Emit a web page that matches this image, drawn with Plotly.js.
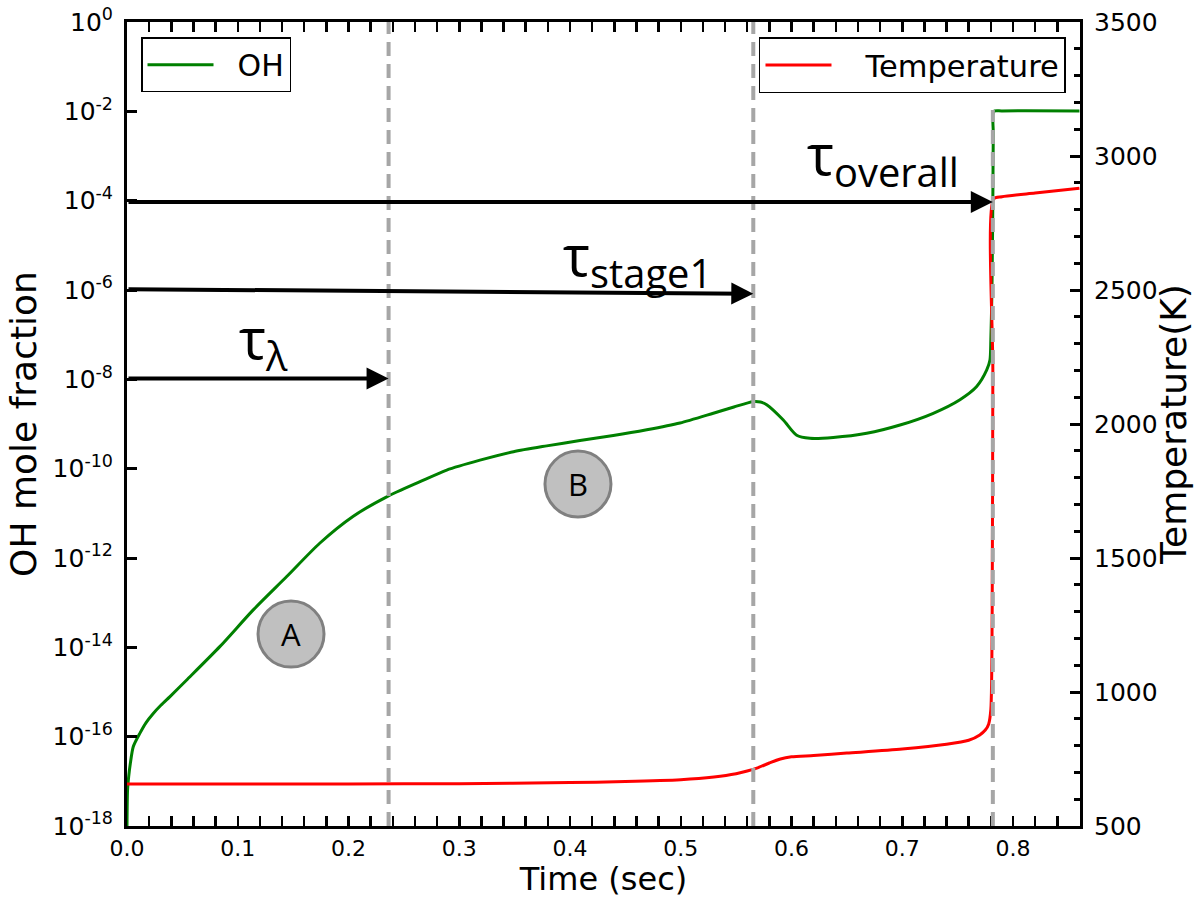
<!DOCTYPE html>
<html>
<head>
<meta charset="utf-8">
<script src="https://cdn.plot.ly/plotly-3.0.1.min.js"></script>
<style>html,body{margin:0;padding:0;background:#fff;}#chart{width:1194px;height:898px;}</style>
</head>
<body>
<div id="chart"></div>
<script>
// OH mole fraction vs time
const time_oh = [0, 0.0005, 0.0015, 0.003, 0.0057, 0.0117, 0.0171, 0.0237, 0.0308, 0.0388, 0.0539, 0.084, 0.114, 0.144, 0.174, 0.204, 0.2345, 0.2646, 0.2887, 0.3187, 0.349, 0.379, 0.409, 0.4391, 0.4693, 0.4993, 0.5294, 0.548, 0.565, 0.572, 0.5776, 0.5926, 0.6047, 0.6167, 0.6377, 0.6679, 0.698, 0.728, 0.7521, 0.7672, 0.7763, 0.7792, 0.7800, 0.7810, 0.7818, 0.7822, 0.7826, 0.79, 0.86];
const oh_fraction = [1.0e-18, 6.3e-18, 1.26e-17, 2.5e-17, 6.0e-17, 1.2e-16, 2.04e-16, 3.3e-16, 5.1e-16, 7.9e-16, 1.86e-15, 1.05e-14, 6.9e-14, 3.8e-13, 2.14e-12, 8.5e-12, 2.34e-11, 5.1e-11, 9.3e-11, 1.55e-10, 2.4e-10, 3.24e-10, 4.27e-10, 5.5e-10, 7.4e-10, 1.05e-9, 1.74e-9, 2.4e-9, 3.16e-9, 3.1e-9, 2.7e-9, 1.23e-9, 5.6e-10, 4.8e-10, 5.0e-10, 6.2e-10, 9.5e-10, 1.74e-9, 3.5e-9, 6.9e-9, 1.62e-8, 2.7e-8, 7.9e-8, 1.0e-6, 1.0e-4, 3.2e-3, 1.0e-2, 1.02e-2, 1.02e-2];

// Temperature vs time
const time_T = [0, 0.1, 0.2, 0.3, 0.4, 0.45, 0.5, 0.53, 0.55, 0.56, 0.57, 0.58, 0.59, 0.60, 0.62, 0.65, 0.70, 0.74, 0.76, 0.77, 0.775, 0.778, 0.780, 0.7812, 0.7818, 0.7825, 0.79, 0.82, 0.86];
const temperature = [657, 657, 657, 658, 662, 666, 673, 683, 695, 705, 718, 735, 750, 758, 763, 772, 787, 805, 820, 840, 858, 880, 935, 1300, 2200, 2840, 2848, 2862, 2880];

// Characteristic times (sec)
const tau_names = ['\u03c4<sub>\u03bb</sub>', '\u03c4<sub>stage1</sub>', '\u03c4<sub>overall</sub>'];
const tau_times = [0.2362, 0.5655, 0.7818];

// Left-axis tick labels
const oh_tick_vals = [1e-18, 1e-16, 1e-14, 1e-12, 1e-10, 1e-8, 1e-6, 1e-4, 1e-2, 1];
const oh_tick_text = ['10<sup>-18</sup>', '10<sup>-16</sup>', '10<sup>-14</sup>', '10<sup>-12</sup>', '10<sup>-10</sup>', '10<sup>-8</sup>', '10<sup>-6</sup>', '10<sup>-4</sup>', '10<sup>-2</sup>', '10<sup>0</sup>'];

const regions = ['A', 'B'];

const tickFont = {family: 'DejaVu Sans', size: 25, color: '#000'};
const xTickFont = {family: 'DejaVu Sans', size: 22, color: '#000'};
const NB2 = '\u00a0\u00a0';
const NB3 = '\u00a0\u00a0\u00a0';

const traces = [
  {x: time_oh, y: oh_fraction, type: 'scatter', mode: 'lines', name: NB2 + 'OH',
   line: {color: '#008000', width: 3, shape: 'spline', smoothing: 0.7}, yaxis: 'y', legend: 'legend'},
  {x: time_T, y: temperature, type: 'scatter', mode: 'lines', name: NB3 + 'Temperature',
   line: {color: '#ff0000', width: 3, shape: 'spline', smoothing: 0.7}, yaxis: 'y2', legend: 'legend2'}
];

const dashStyle = {color: '#a6a6a6', width: 4, dash: '14px,8px'};
const shapes = [
  {type: 'line', xref: 'x', yref: 'y2', x0: tau_times[0], x1: tau_times[0], y0: 500, y1: 3500, line: dashStyle},
  {type: 'line', xref: 'x', yref: 'y2', x0: tau_times[1], x1: tau_times[1], y0: 500, y1: 3500, line: dashStyle},
  {type: 'line', xref: 'x', yref: 'y2', x0: tau_times[2], x1: tau_times[2], y0: 500, y1: 3172, line: dashStyle},
  {type: 'circle', xref: 'x', yref: 'y2', xsizemode: 'pixel', ysizemode: 'pixel', xanchor: 0.1481, yanchor: 1216, x0: -33, x1: 33, y0: -33, y1: 33, fillcolor: '#c0c0c0', line: {color: '#808080', width: 3}},
  {type: 'circle', xref: 'x', yref: 'y2', xsizemode: 'pixel', ysizemode: 'pixel', xanchor: 0.4072, yanchor: 1776, x0: -33, x1: 33, y0: -33, y1: 33, fillcolor: '#c0c0c0', line: {color: '#808080', width: 3}}
];

function arrow(tipX, tipY, tailY) {
  return {x: tipX, y: tipY, xref: 'x', yref: 'y2', ax: 0, ay: tailY, axref: 'x', ayref: 'y2',
          text: '', showarrow: true, arrowhead: 2, arrowsize: 1.1, arrowwidth: 4, arrowcolor: '#000'};
}
const tauFont = {family: 'Open Sans', size: 57, color: '#000'};
const annotations = [
  arrow(tau_times[0], 2170, 2170),
  arrow(tau_times[1], 2486, 2503),
  arrow(tau_times[2], 2828, 2828),
  {x: 0.123, y: 2311, xref: 'x', yref: 'y2', text: tau_names[0], showarrow: false, font: tauFont, xanchor: 'center', yanchor: 'middle'},
  {x: 0.461, y: 2620, xref: 'x', yref: 'y2', text: tau_names[1], showarrow: false, font: tauFont, xanchor: 'center', yanchor: 'middle'},
  {x: 0.683, y: 3000, xref: 'x', yref: 'y2', text: tau_names[2], showarrow: false, font: tauFont, xanchor: 'center', yanchor: 'middle'},
  {x: 0.1481, y: 1216, xref: 'x', yref: 'y2', text: regions[0], showarrow: false, font: {family: 'Open Sans', size: 31, color: '#000'}},
  {x: 0.4072, y: 1776, xref: 'x', yref: 'y2', text: regions[1], showarrow: false, font: {family: 'Open Sans', size: 31, color: '#000'}}
];

const layout = {
  width: 1194, height: 898,
  margin: {l: 127, r: 114, t: 22, b: 72, pad: 0},
  paper_bgcolor: '#fff', plot_bgcolor: '#fff',
  showlegend: true,
  xaxis: {
    range: [0, 0.8605], dtick: 0.1, tick0: 0, tickformat: '.1f',
    ticks: 'inside', ticklen: 10, tickwidth: 2.5, tickcolor: '#000',
    minor: {dtick: 0.02, tick0: 0, ticks: 'inside', ticklen: 6, tickwidth: 2.5, tickcolor: '#000'},
    showline: true, linewidth: 3, linecolor: '#000', mirror: 'allticks',
    showgrid: false, zeroline: false, tickfont: xTickFont, ticklabelstandoff: 1,
    title: {text: 'Time (sec)', font: {family: 'DejaVu Sans', size: 32, color: '#000'}, standoff: 5}
  },
  yaxis: {
    type: 'log', range: [-18, 0], tickmode: 'array', tickvals: oh_tick_vals, ticktext: oh_tick_text,
    ticks: 'inside', ticklen: 10, tickwidth: 3, tickcolor: '#000',
    showline: true, linewidth: 3, linecolor: '#000',
    showgrid: false, zeroline: false, tickfont: tickFont, ticklabelstandoff: 6,
    title: {text: 'OH mole fraction', font: {family: 'DejaVu Sans', size: 36, color: '#000'}, standoff: 5}
  },
  yaxis2: {
    overlaying: 'y', side: 'right', range: [500, 3500], dtick: 500, tick0: 500,
    ticks: 'inside', ticklen: 10, tickwidth: 3, tickcolor: '#000',
    minor: {dtick: 100, tick0: 500, ticks: 'inside', ticklen: 6, tickwidth: 3, tickcolor: '#000'},
    showline: true, linewidth: 3, linecolor: '#000',
    showgrid: false, zeroline: false, tickfont: tickFont, ticklabelstandoff: 6,
    title: {text: 'Temperature(K)', font: {family: 'DejaVu Sans', size: 36, color: '#000'}, standoff: 12}
  },
  legend: {x: 0.0147, y: 0.981, xanchor: 'left', yanchor: 'top', bgcolor: '#fff',
           bordercolor: '#000', borderwidth: 1.5, font: {family: 'DejaVu Sans', size: 30, color: '#000'}, itemwidth: 66},
  legend2: {x: 0.9853, y: 0.981, xanchor: 'right', yanchor: 'top', bgcolor: '#fff',
            bordercolor: '#000', borderwidth: 1.5, font: {family: 'DejaVu Sans', size: 30.5, color: '#000'}, itemwidth: 66},
  shapes: shapes,
  annotations: annotations
};

Plotly.newPlot('chart', traces, layout, {displayModeBar: false, staticPlot: true});
</script>
</body>
</html>
